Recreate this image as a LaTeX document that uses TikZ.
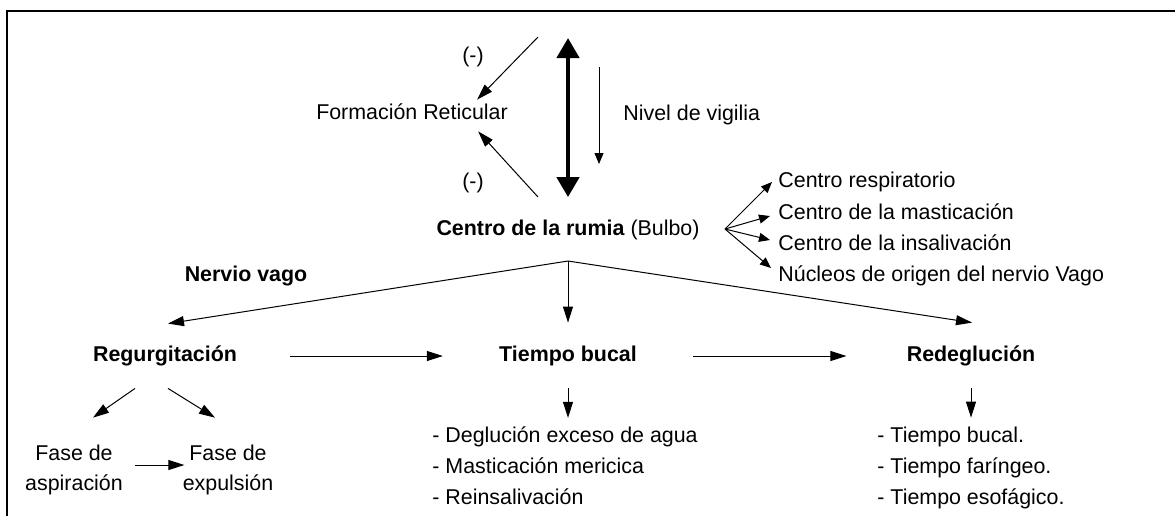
\documentclass[tikz,border=0pt]{standalone}
\usepackage{fontspec}
\setmainfont{Liberation Sans}
\usetikzlibrary{arrows.meta}

\begin{document}
\begin{tikzpicture}
  [x=0.5pt,y=-0.5pt,
   every node/.style={inner sep=0pt,font=\fontsize{10.7}{15}\selectfont},
   lbl/.style={text height=8pt,text depth=2.5pt},
   ttl/.style={lbl,font=\fontsize{10.7}{15}\selectfont\bfseries},
   lst/.style={align=left,anchor=west,font=\fontsize{10.7}{15.5}\selectfont},
   arr/.style={line width=.5pt,-{Triangle[length=8pt,width=5pt]}},
   sarr/.style={line width=.5pt,-{Triangle[length=5.5pt,width=4.5pt]}},
   big/.style={line width=2.2pt,{Triangle[length=10pt,width=11pt]}-{Triangle[length=10pt,width=11pt]}}]
  \useasboundingbox (0,0) rectangle (1176,516);
  \draw[line width=1.1pt] (7,516) -- (7,11) -- (1175,11);

  \node[lbl] (neg1) at (473,57) {(-)};
  \node[lbl] (neg2) at (473,183) {(-)};
  \node[lbl] (fr) at (412,114) {Formación Reticular};
  \node[lbl,anchor=west] (viv) at (623,115) {Nivel de vigilia};
  \node[lbl] (rumia) at (568,230) {\textbf{Centro de la rumia} (Bulbo)};

  \node[lbl,anchor=west] (cr1) at (778,182) {Centro respiratorio};
  \node[lbl,anchor=west] (cr2) at (778,214) {Centro de la masticación};
  \node[lbl,anchor=west] (cr3) at (778,245) {Centro de la insalivación};
  \node[lbl,anchor=west] (cr4) at (778,276) {Núcleos de origen del nervio Vago};

  \node[ttl] (vago) at (246,276) {Nervio vago};
  \node[ttl] (regurg) at (165,356) {Regurgitación};
  \node[ttl] (tbucal) at (568,356) {Tiempo bucal};
  \node[ttl] (redeg) at (971,356) {Redeglución};

  \node[align=center] (asp) at (74,470) {Fase de\\aspiración};
  \node[align=center] (exp) at (228,470) {Fase de\\expulsión};
  \node[lst] (deg) at (432,466) {- Deglución exceso de agua\\- Masticación mericica\\- Reinsalivación};
  \node[lst] (teso) at (877,468) {- Tiempo bucal.\\- Tiempo faríngeo.\\- Tiempo esofágico.};

  \coordinate (top1) at (538,37);
  \coordinate (top2) at (568,38);
  \coordinate (bot1) at (538,197);
  \coordinate (hub) at (568,261);
  \coordinate (fan) at (725,229);

  \draw[arr] (top1) -- ([shift={(-15.5pt,1.75pt)}]fr.north east);
  \draw[arr] (bot1) -- ([shift={(-15pt,-3.25pt)}]fr.south east);
  \draw[big] (top2) -- ([yshift=11pt]rumia.north);
  \draw[sarr,line width=.4pt] ([shift={(-12pt,24pt)}]viv.west) -- ([shift={(-12pt,-24.5pt)}]viv.west);

  \draw[sarr] (fan) -- ([shift={(-3pt,0pt)}]cr1.west);
  \draw[sarr] (fan) -- ([shift={(-4pt,-1pt)}]cr2.west);
  \draw[sarr] (fan) -- ([shift={(-4pt,2.5pt)}]cr3.west);
  \draw[sarr] (fan) -- ([shift={(-3.5pt,4pt)}]cr4.west);

  \draw[arr] (hub) -- ([shift={(1.5pt,10.75pt)}]regurg.north);
  \draw[arr] (hub) -- ([yshift=11.25pt]tbucal.north);
  \draw[arr] (hub) -- ([shift={(.5pt,11.25pt)}]redeg.north);

  \draw[arr,shorten <=26.5pt,shorten >=28pt] (regurg) -- (tbucal);
  \draw[arr,shorten <=28pt,shorten >=30pt] (tbucal) -- (redeg);

  \draw[arr] ([shift={(-15pt,-10.75pt)}]regurg.south) -- ([shift={(9.5pt,13.5pt)}]asp.north);
  \draw[arr] ([shift={(1.5pt,-10.75pt)}]regurg.south) -- ([shift={(-6.5pt,13.5pt)}]exp.north);
  \draw[arr,shorten <=6pt,shorten >=-1pt] ([yshift=2.5pt]asp.east) -- ([yshift=2.5pt]exp.west);

  \draw[arr,shorten <=10.75pt,shorten >=4.4pt] (tbucal) -- (tbucal |- deg.north);
  \draw[arr,shorten <=10.75pt,shorten >=4.5pt] (redeg) -- (redeg |- teso.north);
\end{tikzpicture}
\end{document}
